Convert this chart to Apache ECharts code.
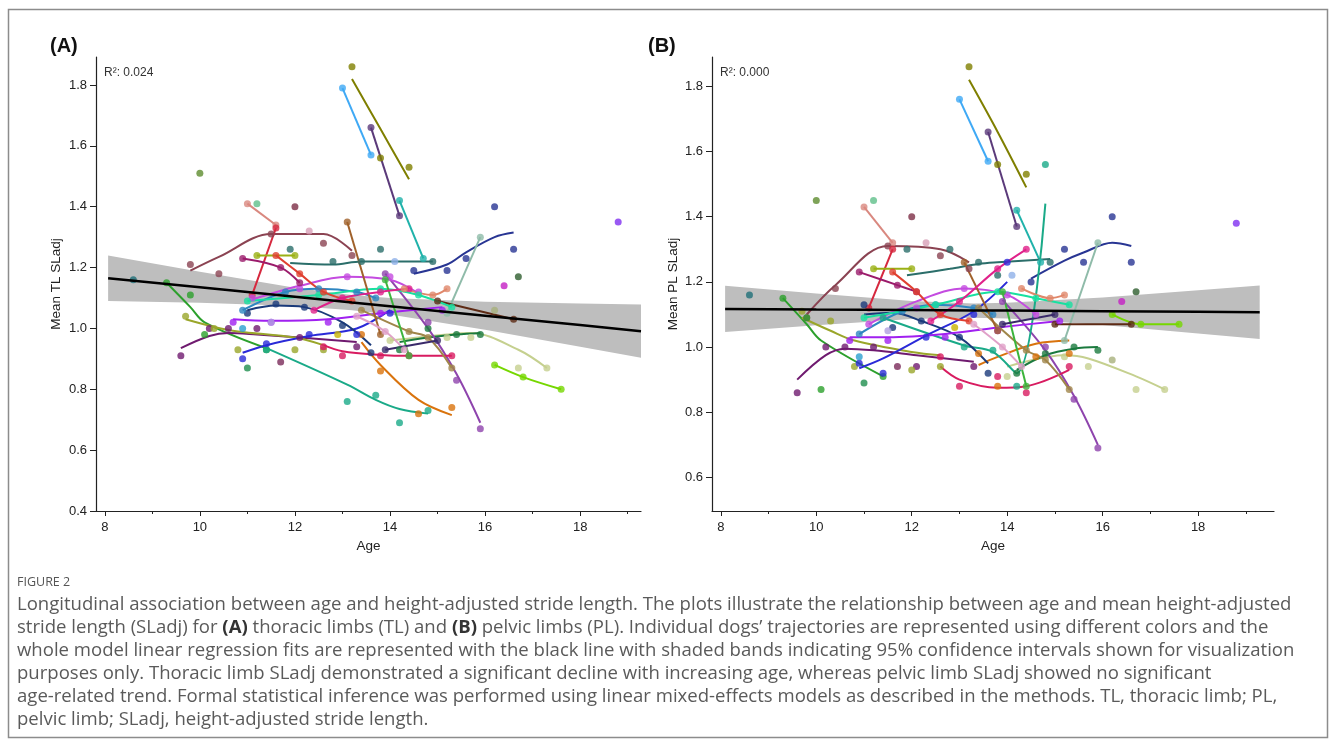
<!DOCTYPE html>
<html>
<head>
<meta charset="utf-8">
<script src="https://cdn.jsdelivr.net/npm/echarts@6/dist/echarts.min.js"></script>
<style>
html, body { margin: 0; padding: 0; background: #fff; }
#main { width: 1335px; height: 745px; }
</style>
</head>
<body>
<div id="main"></div>
<script>
// one entry per dog: colour, ages of the visits, observed SLadj and (optionally) the fitted trajectory
var dogColors = [
  '#3fa9f5', '#7f7f00', '#5b3a7a', '#20b2aa', '#5e8c2e', '#d9887f', '#5fbf8a', '#7d2e46',
  '#8b4352', '#d8a0b8', '#d6283e', '#9ab014', '#2b6e6a', '#8fb0e8', '#283593', '#8fbba9',
  '#c41fc4', '#2e5e2e', '#7f2ff0', '#5d2a14', '#a8b07c', '#c5d08f', '#1b7a3e', '#76d700',
  '#8e44ad', '#d9730d', '#2ca02c', '#1aaa88', '#6f1a6f', '#9aa62a', '#2a2ad8', '#1a3a7a',
  '#a020f0', '#c44be0', '#2e86c1', '#18e0a0', '#9b1b6b', '#e04030', '#d81b60', '#a0864a',
  '#a0612b', '#3cb43c', '#e0218a', '#e0876a', '#e0a0c8', '#3a2a6a', '#1f8f4f', '#2aa0d0',
  '#7a2a5a', '#1f6f78', '#b0a0e0', '#c8b400'
];
var dogAges = [
  [13.0, 13.6], [13.2, 13.8, 14.4], [13.6, 14.2], [14.2, 14.7], [10.0], [11.0, 11.6], [11.2], [12.0],
  [9.8, 10.4, 11.5, 12.6, 13.2], [12.3], [11.1, 11.6], [11.2, 12.0], [11.9, 12.8, 13.4, 13.8, 14.9], [14.1],
  [14.5, 15.2, 15.6, 16.2, 16.6], [15.2, 15.9],
  [16.4], [16.7], [18.8], [15.0, 16.6], [16.2], [14.0, 15.2, 15.7, 16.7, 17.3], [14.2, 14.8, 15.4, 15.9], [16.2, 16.8, 17.6],
  [13.9, 14.8, 15.4, 15.9], [13.4, 13.8, 14.6, 15.3], [9.3, 9.8, 10.1, 11.4], [11.4, 13.1, 13.7, 14.2, 14.8],
  [9.6, 10.2, 10.6, 11.2, 12.1, 13.3], [9.7, 10.3, 10.8, 12.0, 12.6], [10.9, 11.4, 12.3, 13.3, 14.0], [11.0, 11.6, 12.2, 13.0, 13.6],
  [10.7, 11.5, 12.7, 13.8, 15.1], [11.1, 12.1, 13.1, 14.0, 14.6], [10.9, 11.8, 12.5, 13.3, 13.7], [11.0, 12.5, 13.8, 14.6, 15.3],
  [10.9, 11.7, 12.1], [11.6, 12.1, 12.6, 13.2], [12.6, 13.0, 13.8, 14.4, 15.3], [13.4, 14.4, 14.8, 15.3],
  [13.1, 13.8], [13.9, 14.4], [12.4, 13.0, 13.8, 14.4], [14.3, 14.9, 15.2], [13.3, 13.9, 14.3], [13.9, 15.0],
  [11.0], [10.9], [11.7], [8.6], [11.5], [12.9]
];
var tlObs = [
  [1.79, 1.57], [1.86, 1.56, 1.53], [1.66, 1.37], [1.42, 1.23], [1.51], [1.41, 1.34], [1.41], [1.40],
  [1.21, 1.18, 1.31, 1.28, 1.24], [1.32], [1.11, 1.33], [1.24, 1.24], [1.26, 1.22, 1.22, 1.26, 1.22], [1.22],
  [1.19, 1.19, 1.23, 1.40, 1.26], [1.05, 1.30],
  [1.14], [1.17], [1.35], [1.09, 1.03], [1.06], [0.96, 0.97, 0.97, 0.87, 0.87], [0.93, 1.00, 0.98, 0.98], [0.88, 0.84, 0.80],
  [1.18, 1.02, 0.83, 0.67], [0.98, 0.86, 0.72, 0.74], [1.15, 1.11, 0.98, 0.93], [0.93, 0.76, 0.78, 0.69, 0.73],
  [0.91, 1.00, 1.00, 1.00, 0.97, 0.94], [1.04, 1.00, 0.93, 0.93, 0.93], [0.90, 0.95, 0.98, 0.98, 1.05], [1.05, 1.08, 1.07, 1.01, 0.92],
  [1.02, 1.02, 1.02, 1.05, 1.06], [1.10, 1.13, 1.17, 1.17, 1.12], [1.06, 1.12, 1.13, 1.12, 1.10], [1.09, 1.11, 1.13, 1.11, 1.07],
  [1.23, 1.20, 1.15], [1.24, 1.18, 1.12, 1.09], [0.94, 0.91, 0.91, 0.91, 0.91], [1.06, 0.99, 0.97, 0.87],
  [1.35, 0.98], [1.16, 0.91], [1.06, 1.10, 1.12, 1.13], [1.13, 1.11, 1.13], [1.04, 0.99, 0.93], [0.93, 0.96],
  [0.87], [1.00], [0.89], [1.16], [1.02], [0.98]
];
var tlTrend = [
  null, [1.82, 1.655, 1.49], null, null, null, null, null, null,
  [1.19, 1.235, 1.31, 1.31, 1.255], null, null, null, [1.215, 1.21, 1.22, 1.22, 1.22], null,
  [1.18, 1.21, 1.25, 1.30, 1.315], null,
  null, null, null, null, null, [0.96, 0.98, 0.985, 0.93, 0.87], [0.955, 0.97, 0.98, 0.985], null,
  [1.18, 1.00, 0.85, 0.69], [0.955, 0.88, 0.765, 0.715], [1.15, 1.07, 1.02, 0.935], [0.935, 0.815, 0.765, 0.735, 0.72],
  [0.935, 0.975, 0.985, 0.98, 0.97, 0.955], [1.03, 1.005, 0.99, 0.97, 0.945], [0.92, 0.945, 0.975, 1.00, 1.06], [1.06, 1.075, 1.07, 1.02, 0.945],
  [1.03, 1.025, 1.03, 1.05, 1.07], [1.095, 1.14, 1.17, 1.16, 1.115], null, null,
  null, null, [0.945, 0.925, 0.913, 0.91, 0.91], null,
  null, null, null, null, null, null,
  null, null, null, null, null, null
];
var plObs = [
  [1.76, 1.57], [1.86, 1.56, 1.53], [1.66, 1.37], [1.42, 1.26], [1.45], [1.43, 1.32], [1.45], [1.40],
  [1.09, 1.18, 1.31, 1.28, 1.24], [1.32], [1.12, 1.30], [1.24, 1.24], [1.30, 1.30, 1.26, 1.22, 1.26], [1.22],
  [1.20, 1.30, 1.26, 1.40, 1.26], [1.02, 1.32],
  [1.14], [1.17], [1.38], [1.07, 1.07], [0.96], [0.91, 0.97, 0.94, 0.87, 0.87], [0.92, 0.98, 1.00, 0.99], [1.10, 1.07, 1.07],
  [1.14, 1.00, 0.84, 0.69], [0.98, 0.88, 0.97, 0.98], [1.15, 1.09, 0.87, 0.91], [1.09, 1.00, 0.99, 0.88, 1.56],
  [0.86, 1.00, 1.00, 1.00, 0.94, 0.94], [1.11, 1.08, 0.94, 0.93, 0.94], [0.95, 0.92, 1.03, 1.10, 1.26], [1.13, 1.06, 1.08, 1.03, 0.92],
  [1.02, 1.02, 1.03, 1.05, 1.08], [1.07, 1.12, 1.18, 1.16, 1.10], [1.04, 1.11, 1.13, 1.12, 1.10], [1.09, 1.13, 1.17, 1.15, 1.13],
  [1.23, 1.19, 1.17], [1.23, 1.17, 1.10, 1.08], [0.97, 0.88, 0.91, 0.86, 0.94], [1.12, 0.99, 0.96, 0.87],
  [1.26, 1.05], [1.17, 0.88], [1.08, 1.14, 1.24, 1.30], [1.18, 1.15, 1.16], [1.07, 1.00, 0.94], [1.07, 1.10],
  [0.89], [0.97], [0.94], [1.16], [1.05], [1.06]
];
var plTrend = [
  null, [1.82, 1.66, 1.49], null, null, null, null, null, null,
  [1.10, 1.19, 1.31, 1.30, 1.26], null, null, null, [1.22, 1.24, 1.255, 1.26, 1.27], null,
  [1.21, 1.265, 1.29, 1.32, 1.31], null,
  null, null, null, null, null, [0.94, 0.975, 0.965, 0.91, 0.87], [0.93, 0.975, 0.995, 1.00], null,
  [1.145, 0.99, 0.85, 0.70], [0.945, 0.97, 1.01, 1.02], [1.15, 1.07, 1.02, 0.91], [1.09, 1.005, 0.985, 0.92, 1.44],
  [0.90, 0.975, 0.995, 0.99, 0.975, 0.955], [1.09, 1.05, 1.02, 0.985, 0.975], [0.935, 0.965, 1.035, 1.11, 1.20], [1.10, 1.105, 1.08, 1.03, 0.95],
  [1.03, 1.03, 1.04, 1.06, 1.08], [1.07, 1.14, 1.18, 1.16, 1.10], null, null,
  null, null, [0.94, 0.90, 0.875, 0.88, 0.93], null,
  null, null, null, null, null, null,
  null, null, null, null, null, null
];

// whole-model linear fit with 95% band
var tlFitAges = [8.07, 10, 12, 13.2, 14, 16, 18, 19.28];
var tlFitLine = [1.165, 1.135, 1.104, 1.085, 1.073, 1.042, 1.011, 0.991];
var tlFitLow = [1.090, 1.084, 1.074, 1.060, 1.046, 0.996, 0.940, 0.904];
var tlFitHigh = [1.240, 1.186, 1.134, 1.110, 1.100, 1.088, 1.082, 1.079];
var plFitAges = [8.09, 10, 12, 13.3, 14, 16, 18, 19.29];
var plFitLine = [1.117, 1.115, 1.114, 1.112, 1.112, 1.110, 1.108, 1.107];
var plFitLow = [1.046, 1.067, 1.086, 1.090, 1.088, 1.068, 1.042, 1.025];
var plFitHigh = [1.188, 1.164, 1.141, 1.134, 1.136, 1.152, 1.174, 1.189];

var xMajorTicks = [8, 10, 12, 14, 16, 18];
var xMinorTicks = [9, 11, 13, 15, 17, 19];
var tlTicks = [0.4, 0.6, 0.8, 1.0, 1.2, 1.4, 1.6, 1.8];
var plTicks = [0.6, 0.8, 1.0, 1.2, 1.4, 1.6, 1.8];

var captionLines = [
  'Longitudinal association between age and height-adjusted stride length. The plots illustrate the relationship between age and mean height-adjusted',
  'stride length (SLadj) for {b|(A)} thoracic limbs (TL) and {b|(B)} pelvic limbs (PL). Individual dogs\u2019 trajectories are represented using different colors and the',
  'whole model linear regression fits are represented with the black line with shaded bands indicating 95% confidence intervals shown for visualization',
  'purposes only. Thoracic limb SLadj demonstrated a significant decline with increasing age, whereas pelvic limb SLadj showed no significant',
  'age-related trend. Formal statistical inference was performed using linear mixed-effects models as described in the methods. TL, thoracic limb; PL,',
  'pelvic limb; SLadj, height-adjusted stride length.'
];

var axisFont = 'Liberation Sans';
var capFont = 'Open Sans';

// fit the caption size to the printed line width
var ctx = document.createElement('canvas').getContext('2d');
ctx.font = '16px "' + capFont + '"';
var capSize = 16 * 1275 / ctx.measureText(captionLines[0]).width;

function zip(xs, ys) {
  return xs.map(function (x, i) { return [x, ys[i]]; });
}

function dogSeries(obs, trend, xi, yi) {
  var out = [];
  var pts = [];
  dogAges.forEach(function (ages, d) {
    var ys = trend[d] || obs[d];
    if (ages.length > 1) {
      out.push({
        type: 'line', xAxisIndex: xi, yAxisIndex: yi, z: 3, silent: true,
        data: zip(ages, ys), smooth: 0.35, symbol: 'none',
        lineStyle: { color: dogColors[d], width: 2 }
      });
    }
    ages.forEach(function (a, i) {
      pts.push({ value: [a, obs[d][i]], itemStyle: { color: dogColors[d] } });
    });
  });
  out.push({
    type: 'scatter', xAxisIndex: xi, yAxisIndex: yi, z: 4, silent: true,
    data: pts, symbolSize: 7
  });
  return out;
}

function fitSeries(ages, line, low, high, xi, yi) {
  return [
    {
      type: 'custom', xAxisIndex: xi, yAxisIndex: yi, z: 1, silent: true,
      data: [[ages[0], low[0]]],
      renderItem: function (params, api) {
        var pts = [];
        for (var i = 0; i < ages.length; i++) pts.push(api.coord([ages[i], high[i]]));
        for (var j = ages.length - 1; j >= 0; j--) pts.push(api.coord([ages[j], low[j]]));
        return { type: 'polygon', shape: { points: pts }, style: { fill: '#bebebe' } };
      }
    },
    { type: 'line', xAxisIndex: xi, yAxisIndex: yi, z: 5, silent: true,
      data: zip(ages, line), symbol: 'none', lineStyle: { color: '#000', width: 2.5 } }
  ];
}

function xMain(grid, max) {
  return {
    type: 'value', gridIndex: grid, min: 7.815, max: max, position: 'bottom',
    name: 'Age', nameLocation: 'middle', nameGap: 26,
    nameTextStyle: { fontFamily: axisFont, fontSize: 13.5, color: '#222' },
    axisLine: { lineStyle: { color: '#222', width: 1.2 } },
    axisTick: { length: 5, customValues: xMajorTicks, lineStyle: { color: '#222' } },
    axisLabel: { customValues: xMajorTicks, margin: 10, fontFamily: axisFont, fontSize: 13, color: '#222' },
    splitLine: { show: false }
  };
}

function xMinor(grid, max) {
  return {
    type: 'value', gridIndex: grid, min: 7.815, max: max, position: 'bottom',
    axisLine: { show: false },
    axisTick: { length: 3, customValues: xMinorTicks, lineStyle: { color: '#222' } },
    axisLabel: { show: false, customValues: xMinorTicks },
    splitLine: { show: false }
  };
}

function yAxisFor(grid, min, max, ticks, name, gap) {
  return {
    type: 'value', gridIndex: grid, min: min, max: max,
    name: name, nameLocation: 'middle', nameGap: gap,
    nameTextStyle: { fontFamily: axisFont, fontSize: 13.5, color: '#222' },
    axisLine: { show: true, lineStyle: { color: '#222', width: 1.2 } },
    axisTick: { show: true, length: 6, customValues: ticks, lineStyle: { color: '#222' } },
    axisLabel: {
      customValues: ticks, margin: 9, fontFamily: axisFont, fontSize: 13, color: '#222',
      formatter: function (v) { return v.toFixed(1); }
    },
    splitLine: { show: false }
  };
}

var graphics = [
  { type: 'rect', shape: { x: 8.5, y: 9.5, width: 1319, height: 728 },
    style: { fill: 'none', stroke: '#8c8c8c', lineWidth: 1.5 }, silent: true },
  { type: 'text', x: 50, y: 46, style: { text: '(A)', fontFamily: axisFont, fontSize: 20, fontWeight: 'bold', fill: '#111', verticalAlign: 'middle' } },
  { type: 'text', x: 648, y: 46, style: { text: '(B)', fontFamily: axisFont, fontSize: 20, fontWeight: 'bold', fill: '#111', verticalAlign: 'middle' } },
  { type: 'text', x: 104, y: 73, z: 10, style: { text: 'R\u00b2: 0.024', fontFamily: axisFont, fontSize: 12, fill: '#333', verticalAlign: 'middle' } },
  { type: 'text', x: 720, y: 73, z: 10, style: { text: 'R\u00b2: 0.000', fontFamily: axisFont, fontSize: 12, fill: '#333', verticalAlign: 'middle' } },
  { type: 'text', x: 17, y: 582, style: { text: 'FIGURE 2', fontFamily: capFont, fontSize: 12.5, fill: '#555', verticalAlign: 'middle' } }
];
captionLines.forEach(function (t, i) {
  graphics.push({
    type: 'text', x: 17, y: 605 + i * 23,
    style: {
      text: t, fontFamily: capFont, fontSize: capSize, fill: '#5a5a5a', verticalAlign: 'middle',
      rich: { b: { fontFamily: capFont, fontSize: capSize, fontWeight: 'bold', fill: '#333' } }
    }
  });
});

var myChart = echarts.init(document.getElementById('main'));

var option = {
  animation: false,
  backgroundColor: '#fff',
  grid: [
    { left: 96, top: 57, width: 545, height: 454 },
    { left: 712, top: 57, width: 562, height: 454 }
  ],
  xAxis: [xMain(0, 19.28), xMinor(0, 19.28), xMain(1, 19.59), xMinor(1, 19.59)],
  yAxis: [
    yAxisFor(0, 0.4, 1.892, tlTicks, 'Mean TL SLadj', 33),
    yAxisFor(1, 0.497, 1.89, plTicks, 'Mean PL SLadj', 32)
  ],
  graphic: graphics,
  series: [].concat(
    fitSeries(tlFitAges, tlFitLine, tlFitLow, tlFitHigh, 0, 0),
    dogSeries(tlObs, tlTrend, 0, 0),
    fitSeries(plFitAges, plFitLine, plFitLow, plFitHigh, 2, 1),
    dogSeries(plObs, plTrend, 2, 1)
  )
};

myChart.setOption(option);
</script>
</body>
</html>
